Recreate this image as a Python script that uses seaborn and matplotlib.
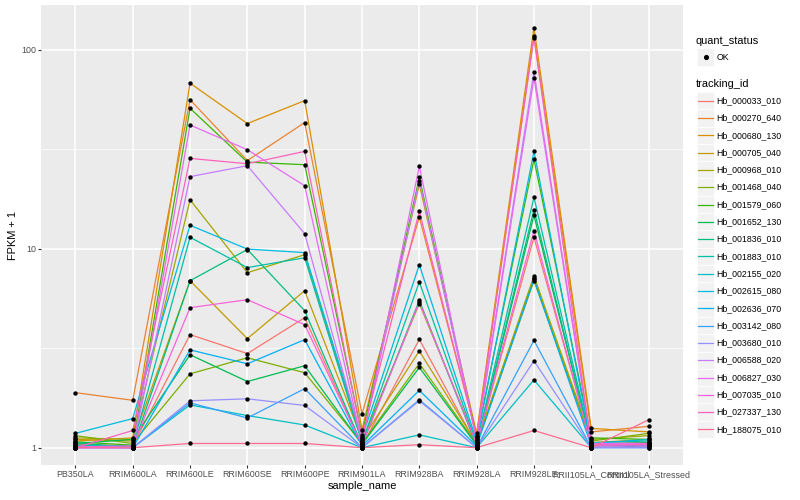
import numpy as np
import pandas as pd
import matplotlib
matplotlib.use("Agg")
import matplotlib.pyplot as plt
import seaborn as sns
from matplotlib.lines import Line2D
from matplotlib.patches import Rectangle
from matplotlib.ticker import FixedLocator, NullFormatter

# Echantillons (axe x) et identifiants des transcrits
samples = ["PB350LA", "RRIM600LA", "RRIM600LE", "RRIM600SE", "RRIM600PE",
           "RRIM901LA", "RRIM928BA", "RRIM928LA", "RRIM928LE",
           "RRII105LA_Control", "RRII105LA_Stressed"]

tracking_ids = ["Hb_000033_010", "Hb_000270_640", "Hb_000680_130", "Hb_000705_040",
                "Hb_000968_010", "Hb_001468_040", "Hb_001579_060", "Hb_001652_130",
                "Hb_001836_010", "Hb_001883_010", "Hb_002155_020", "Hb_002615_080",
                "Hb_002636_070", "Hb_003142_080", "Hb_003680_010", "Hb_006588_020",
                "Hb_006827_030", "Hb_007035_010", "Hb_027337_130", "Hb_188075_010"]

palette_hex = ["#F8766D", "#EA8331", "#D89000", "#C09B00", "#A3A500", "#7CAE00",
               "#39B600", "#00BB4E", "#00BF7D", "#00C1A3", "#00BFC4", "#00BAE0",
               "#00B0F6", "#35A2FF", "#9590FF", "#C77CFF", "#E76BF3", "#FA62DB",
               "#FF62BC", "#FF6C91"]

# FPKM + 1 par echantillon (meme ordre que tracking_ids)
pb350la = [1.04, 1.89, 1.08, 1.10, 1.12, 1.15, 1.07, 1.05, 1.06, 1.03,
           1.02, 1.18, 1.01, 1.00, 1.00, 1.00, 1.00, 1.01, 1.00, 1.00]
rrim600la = [1.02, 1.73, 1.12, 1.08, 1.10, 1.05, 1.03, 1.10, 1.00, 1.02,
             1.00, 1.40, 1.00, 1.00, 1.00, 1.00, 1.00, 1.02, 1.22, 1.00]
rrim600le = [3.7, 56.0, 67.8, 6.9, 17.6, 2.35, 50.7, 2.93, 6.9, 11.4,
             1.64, 13.1, 3.1, 1.68, 1.72, 23.0, 41.8, 5.05, 28.4, 1.05]
rrim600se = [2.97, 27.7, 42.5, 3.53, 7.57, 2.83, 27.2, 2.15, 9.9, 8.03,
             1.45, 9.95, 2.64, 1.41, 1.76, 26.1, 31.4, 5.54, 26.7, 1.05]
rrim600pe = [4.5, 43.0, 55.4, 6.15, 9.33, 2.38, 26.4, 2.58, 4.88, 9.0,
             1.30, 9.55, 3.49, 1.98, 1.63, 11.9, 20.7, 4.15, 30.8, 1.05]
rrim901la = [1.02, 1.48, 1.23, 1.10, 1.08, 1.05, 1.16, 1.04, 1.03, 1.06,
             1.00, 1.12, 1.02, 1.00, 1.00, 1.08, 1.06, 1.03, 1.13, 1.00]
rrim928ba = [3.5, 14.4, 21.0, 3.06, 5.3, 2.65, 22.8, 2.53, 5.5, 6.8,
             1.16, 8.3, 1.94, 1.74, 1.72, 21.9, 25.9, 5.4, 15.4, 1.035]
rrim928la = [1.03, 1.15, 1.18, 1.05, 1.06, 1.04, 1.12, 1.03, 1.02, 1.05,
             1.00, 1.08, 1.02, 1.00, 1.00, 1.10, 1.09, 1.04, 1.14, 1.00]
rrim928le = [11.4, 117.0, 129.0, 7.1, 7.3, 6.9, 28.1, 14.7, 15.7, 18.1,
             2.19, 30.8, 7.0, 3.46, 2.73, 77.5, 72.0, 12.3, 115.0, 1.22]
rrii105_control = [1.05, 1.20, 1.25, 1.06, 1.10, 1.08, 1.12, 1.04, 1.03, 1.06,
                   1.00, 1.05, 1.02, 1.00, 1.00, 1.04, 1.05, 1.02, 1.03, 1.00]
rrii105_stressed = [1.06, 1.28, 1.20, 1.10, 1.15, 1.18, 1.10, 1.06, 1.05, 1.08,
                    1.02, 1.10, 1.03, 1.00, 1.00, 1.04, 1.05, 1.02, 1.04, 1.38]

columns = [pb350la, rrim600la, rrim600le, rrim600se, rrim600pe, rrim901la,
           rrim928ba, rrim928la, rrim928le, rrii105_control, rrii105_stressed]

# Mise en forme longue
rows = []
for gi, gene in enumerate(tracking_ids):
    for si, s in enumerate(samples):
        rows.append({"tracking_id": gene, "sample_name": s, "fpkm": columns[si][gi]})
df = pd.DataFrame(rows)

plt.rcParams['font.family'] = ['Liberation Sans', 'DejaVu Sans']

W, H = 800, 500
fig = plt.figure(figsize=(8, 5), dpi=100)
ax = fig.add_axes([41 / W, 35 / H, (683 - 41) / W, 460 / H])
ax.set_facecolor("#EBEBEB")
for sp in ax.spines.values():
    sp.set_visible(False)

pal = dict(zip(tracking_ids, palette_hex))
sns.lineplot(data=df, x="sample_name", y="fpkm", hue="tracking_id", palette=pal,
             hue_order=tracking_ids, estimator=None, sort=False, lw=0.9,
             legend=False, ax=ax)
sns.scatterplot(data=df, x="sample_name", y="fpkm", color="black", s=10,
                linewidth=0, legend=False, ax=ax, zorder=3)

ax.set_yscale("log")
ax.set_ylim(10 ** -0.087, 10 ** 2.224)
ax.set_xlim(-0.6, len(samples) - 0.4)
ax.yaxis.set_major_locator(FixedLocator([1, 10, 100]))
ax.set_yticklabels(["1", "10", "100"])
ax.yaxis.set_minor_locator(FixedLocator([10 ** 0.5, 10 ** 1.5]))
ax.yaxis.set_minor_formatter(NullFormatter())
ax.set_axisbelow(True)
ax.grid(which="major", color="white", lw=1.1)
ax.grid(which="minor", axis="y", color="white", lw=0.55)
ax.tick_params(which="major", length=2.2, width=0.8, color="#333333",
               labelsize=6.4, labelcolor="#4D4D4D", pad=1.5)
ax.tick_params(which="minor", length=0)
ax.set_xlabel("sample_name", fontsize=7.9, labelpad=1)
ax.set_ylabel("FPKM + 1", fontsize=7.9, labelpad=2)


# Legende facon ggplot, dessinee a la main
def fx(px):
    return px / W


def fy(py):
    return 1 - py / H


def key_box(cy):
    fig.add_artist(Rectangle((fx(697), fy(cy + 8.6)), 17.3 / W, 17.3 / H,
                             transform=fig.transFigure, facecolor="#F2F2F2",
                             edgecolor="white", lw=0.5))


fig.text(fx(696), fy(41), "quant_status", fontsize=7.9, va="center")
key_box(57)
fig.add_artist(Line2D([fx(705.5)], [fy(57)], marker="o", color="black", ms=2.7,
                      transform=fig.transFigure, linestyle=""))
fig.text(fx(716.5), fy(57), "OK", fontsize=6.3, va="center")

fig.text(fx(696), fy(84), "tracking_id", fontsize=7.9, va="center")
for i, (gene, col) in enumerate(zip(tracking_ids, palette_hex)):
    cy = 100.7 + i * 17.3
    key_box(cy)
    fig.add_artist(Line2D([fx(698), fx(713)], [fy(cy), fy(cy)], color=col, lw=0.9,
                          transform=fig.transFigure))
    fig.text(fx(716.5), fy(cy), gene, fontsize=6.3, va="center")

fig.savefig("out.png", dpi=100)
